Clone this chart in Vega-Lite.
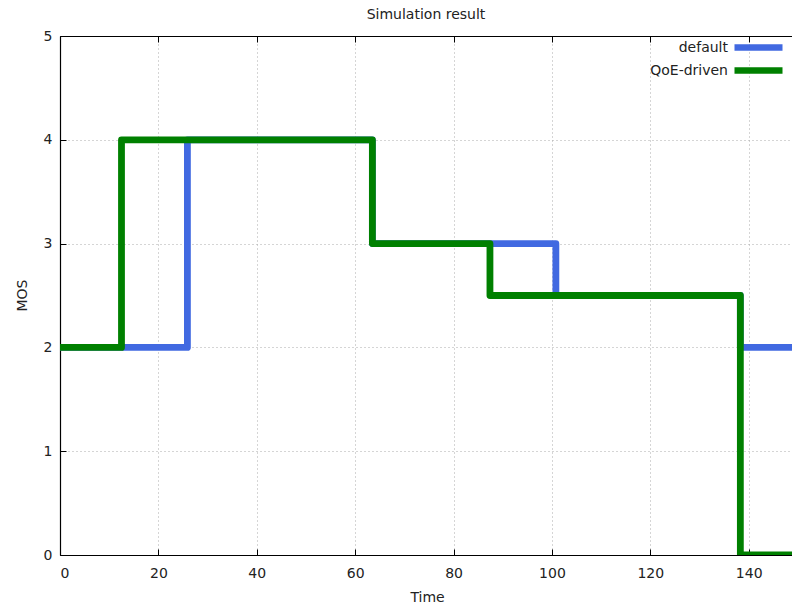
{
  "$schema": "https://vega.github.io/schema/vega-lite/v6.json",
  "autosize": "none",
  "width": 732,
  "height": 519,
  "padding": {"left": 60, "top": 36, "right": 0, "bottom": 49},
  "background": "white",
  "title": {"text": "Simulation result", "fontSize": 14, "fontWeight": "normal", "font": "DejaVu Sans", "color": "#222", "offset": 1, "dy": -6},
  "config": {
    "view": {"stroke": null},
    "axis": {"labelFont": "DejaVu Sans", "titleFont": "DejaVu Sans", "labelFontSize": 14, "titleFontSize": 14, "titleFontWeight": "normal", "labelColor": "#222", "titleColor": "#222", "domain": true, "domainColor": "#000", "tickColor": "#000", "domainWidth": 1.2, "gridColor": "#aaaaaa", "gridDash": [1, 3], "gridWidth": 1, "gridOpacity": 1},
    "legend": {"labelFont": "DejaVu Sans", "labelFontSize": 14, "labelColor": "#222"}
  },
  "data": {"values": [
    {"series": "default", "time": 0, "mos": 2},
    {"series": "default", "time": 25.9, "mos": 4},
    {"series": "default", "time": 63.5, "mos": 3},
    {"series": "default", "time": 100.8, "mos": 2.5},
    {"series": "default", "time": 138.3, "mos": 2},
    {"series": "default", "time": 150, "mos": 2},
    {"series": "QoE-driven", "time": 0, "mos": 2},
    {"series": "QoE-driven", "time": 12.5, "mos": 4},
    {"series": "QoE-driven", "time": 63.5, "mos": 3},
    {"series": "QoE-driven", "time": 87.4, "mos": 2.5},
    {"series": "QoE-driven", "time": 138.3, "mos": 0},
    {"series": "QoE-driven", "time": 150, "mos": 0}
  ]},
  "layer": [
    {
      "mark": {"type": "line", "opacity": 0},
      "encoding": {
        "x": {"field": "time", "type": "quantitative", "scale": {"domain": [0, 148.8], "nice": false, "zero": false},
          "axis": {"orient": "top", "labels": false, "title": null, "grid": false, "domain": true, "values": [0, 20, 40, 60, 80, 100, 120, 140], "tickSize": -6}},
        "y": {"field": "mos", "type": "quantitative", "scale": {"domain": [0, 5], "nice": false},
          "axis": {"title": "MOS", "grid": true, "domain": true, "format": "d", "values": [0, 1, 2, 3, 4, 5], "tickSize": -6, "labelPadding": 14, "titleX": -38, "titleY": 259, "titleBaseline": "middle"}}
      }
    },
    {
      "mark": {"type": "line", "interpolate": "step-after", "strokeWidth": 6.8, "strokeCap": "round", "strokeJoin": "round", "clip": true},
      "encoding": {
        "x": {"field": "time", "type": "quantitative",
          "axis": {"orient": "bottom", "title": "Time", "grid": true, "domain": true, "values": [0, 20, 40, 60, 80, 100, 120, 140], "tickSize": -6, "labelPadding": 17, "titleBaseline": "alphabetic", "titleY": 46, "titleX": 367}},
        "y": {"field": "mos", "type": "quantitative"},
        "color": {"field": "series", "type": "nominal", "sort": ["default", "QoE-driven"],
          "scale": {"domain": ["default", "QoE-driven"], "range": ["#4169e1", "#008000"]},
          "legend": {"title": null, "orient": "none", "legendX": 689, "legendY": 2, "symbolType": "M-4,0H4", "symbolSize": 144, "symbolStrokeWidth": 6.5, "labelAlign": "right", "labelOffset": -40, "rowPadding": -19}},
        "order": {"field": "series", "sort": "descending"}
      }
    }
  ],
  "resolve": {"axis": {"x": "independent"}}
}
